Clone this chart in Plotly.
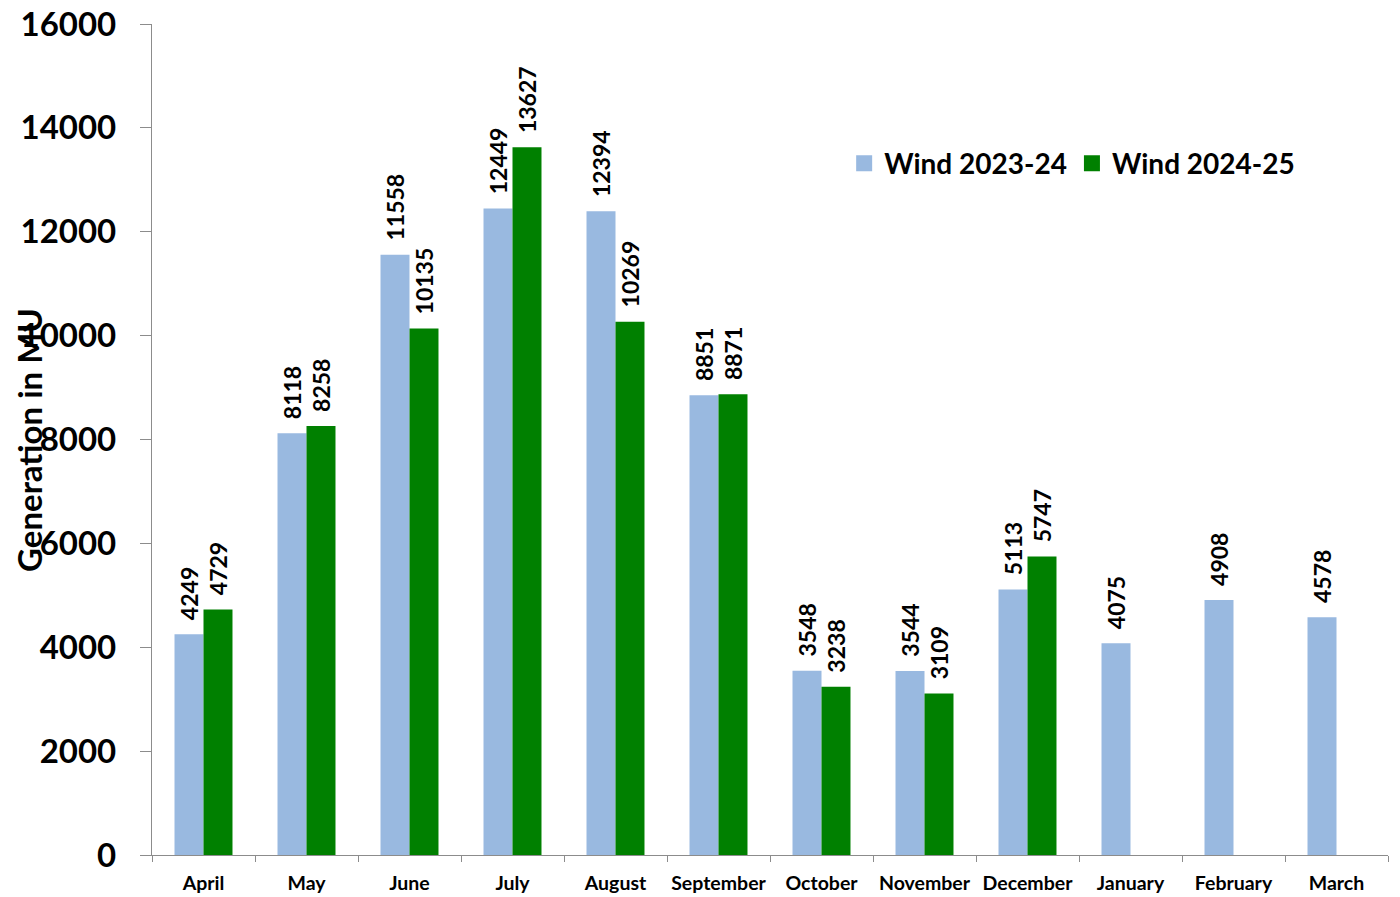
import plotly.graph_objects as go

months = ["April", "May", "June", "July", "August", "September", "October",
          "November", "December", "January", "February", "March"]
wind_2023_24 = [4249, 8118, 11558, 12449, 12394, 8851, 3548, 3544, 5113, 4075, 4908, 4578]
wind_2024_25 = [4729, 8258, 10135, 13627, 10269, 8871, 3238, 3109, 5747, None, None, None]
y_ticks = [0, 2000, 4000, 6000, 8000, 10000, 12000, 14000, 16000]
series_names = ["Wind 2023-24", "Wind 2024-25"]
series_colors = ["#99B9E0", "#008000"]

FONT = "Lato"
AXIS_COLOR = "#8c8c8c"
PAD = "\u00a0\u00a0"

fig = go.Figure()
for name, vals, col in zip(series_names, [wind_2023_24, wind_2024_25], series_colors):
    fig.add_trace(go.Bar(
        name=name, x=months, y=vals, showlegend=False,
        marker=dict(color=col, line=dict(width=0)),
        text=[PAD + str(v) if v is not None else "" for v in vals],
        textposition="outside", textangle=-90, constraintext="none",
        textfont=dict(family=FONT, size=23, color="black", weight="bold"),
        cliponaxis=False,
    ))
# legend proxies with larger square swatches
for name, col in zip(series_names, series_colors):
    fig.add_trace(go.Scatter(
        name=name, x=[None], y=[None], mode="markers",
        marker=dict(symbol="square", size=18, color=col),
        showlegend=True,
    ))

fig.update_layout(
    width=1392, height=889,
    margin=dict(l=144, r=12, t=16, b=42, autoexpand=False),
    plot_bgcolor="white", paper_bgcolor="white",
    barmode="group", bargap=0.437, bargroupgap=0,
    font=dict(family=FONT, color="black"),
    legend=dict(
        orientation="h", x=0.56, y=0.832, xanchor="left", yanchor="middle",
        font=dict(family=FONT, size=28, color="black", weight="bold"),
        bgcolor="rgba(0,0,0,0)", traceorder="normal",
        itemwidth=30, tracegroupgap=0,
    ),
    xaxis=dict(
        type="category", range=[-0.5, 11.5], automargin=False,
        showline=True, linecolor=AXIS_COLOR, linewidth=1.3,
        ticks="outside", tickson="boundaries", ticklen=6, tickcolor=AXIS_COLOR,
        tickfont=dict(family=FONT, size=19.5, color="black", weight="bold"),
        tickangle=0, ticklabelstandoff=10, showgrid=False, zeroline=False,
    ),
    yaxis=dict(
        range=[0, 16000], tickvals=y_ticks, ticktext=[str(v) for v in y_ticks],
        automargin=False, ticklabeloverflow="allow",
        showline=True, linecolor=AXIS_COLOR, linewidth=1.3,
        ticks="outside", ticklen=11, tickcolor=AXIS_COLOR,
        tickfont=dict(family=FONT, size=33, color="black", weight="bold"),
        ticklabelstandoff=17, showgrid=False, zeroline=False,
    ),
    annotations=[dict(
        text="Generation in MU", textangle=-90,
        xref="paper", yref="paper", x=-0.1, y=0.5,
        xanchor="center", yanchor="middle", showarrow=False,
        font=dict(family=FONT, size=33, color="black", weight="bold"),
    )],
)

fig.write_html("out.html")
